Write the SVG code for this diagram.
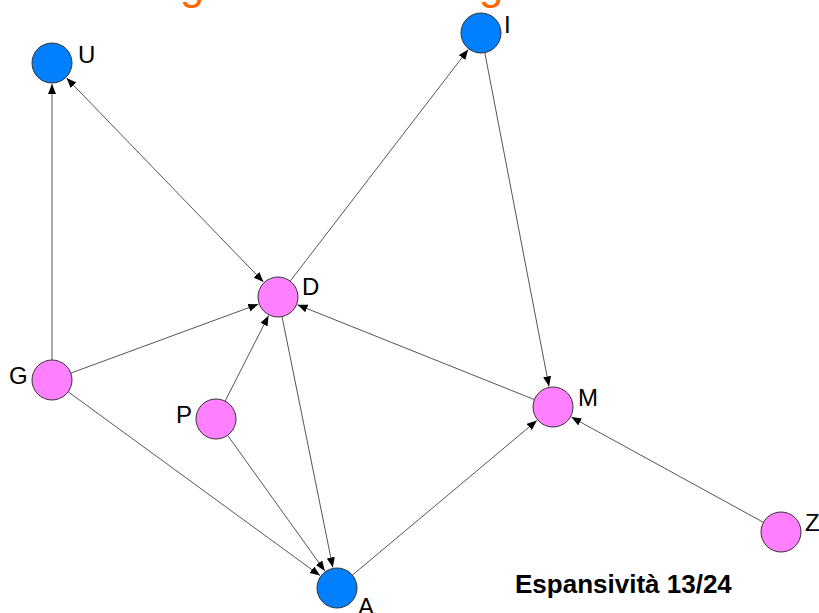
<svg xmlns="http://www.w3.org/2000/svg" width="819" height="613" viewBox="0 0 819 613">
<defs>
<marker id="arr" markerWidth="11" markerHeight="9" refX="10" refY="4" orient="auto-start-reverse" markerUnits="userSpaceOnUse">
<path d="M0,0 L10,4 L0,8 z" fill="#000"/>
</marker>
<style>
.edge{stroke:#555;stroke-width:1;fill:none;marker-end:url(#arr)}
.blue{fill:#0080FF;stroke:#333;stroke-width:1}
.pink{fill:#FF80FF;stroke:#333;stroke-width:1}
.lbl{font-family:"Liberation Sans",Arial,sans-serif;font-size:24px;fill:#000}
.title{font-family:"Liberation Sans",Arial,sans-serif;font-size:44px;fill:#FF6600}
.note{font-family:"Liberation Sans",Arial,sans-serif;font-size:26px;font-weight:bold;fill:#000}
</style>
</defs>
<rect width="819" height="613" fill="#fff"/>
<text class="title" x="180" y="-1">g</text>
<text class="title" x="479" y="-1">g</text>
<g id="connectors">
<line class="edge" x1="52" y1="360" x2="52" y2="84"/>
<line class="edge" x1="66.6" y1="78.1" x2="263.4" y2="281.9" style="marker-start:url(#arr)"/>
<line class="edge" x1="290.2" y1="281.1" x2="468.2" y2="49.6"/>
<line class="edge" x1="484.8" y1="52.6" x2="549" y2="386.4"/>
<line class="edge" x1="534.4" y1="399.6" x2="297.5" y2="304.8"/>
<line class="edge" x1="70.8" y1="373.1" x2="258.3" y2="304.2"/>
<line class="edge" x1="225.1" y1="401.2" x2="268.5" y2="315.7"/>
<line class="edge" x1="282" y1="316.6" x2="332.8" y2="567.4"/>
<line class="edge" x1="68.2" y1="391.8" x2="320" y2="575.6"/>
<line class="edge" x1="227.6" y1="435.3" x2="324.8" y2="570.9"/>
<line class="edge" x1="352.3" y1="575.2" x2="536.9" y2="420.5"/>
<line class="edge" x1="763.5" y1="522.4" x2="571.4" y2="417.1"/>
</g>
<g id="node-U"><circle class="blue" cx="52" cy="63" r="20"/><text class="lbl" x="78" y="63">U</text></g>
<g id="node-I"><circle class="blue" cx="481" cy="33" r="20"/><text class="lbl" x="504" y="33">I</text></g>
<g id="node-D"><circle class="pink" cx="278" cy="297" r="20"/><text class="lbl" x="302" y="295">D</text></g>
<g id="node-G"><circle class="pink" cx="52" cy="380" r="20"/><text class="lbl" x="9" y="384">G</text></g>
<g id="node-P"><circle class="pink" cx="216" cy="419" r="20"/><text class="lbl" x="176" y="423">P</text></g>
<g id="node-M"><circle class="pink" cx="553" cy="407" r="20"/><text class="lbl" x="578" y="406">M</text></g>
<g id="node-Z"><circle class="pink" cx="781" cy="532" r="20"/><text class="lbl" x="805" y="531">Z</text></g>
<g id="node-A"><circle class="blue" cx="337" cy="588" r="20"/><text class="lbl" x="358" y="615">A</text></g>
<text class="note" x="515" y="593">Espansività 13/24</text>
</svg>
